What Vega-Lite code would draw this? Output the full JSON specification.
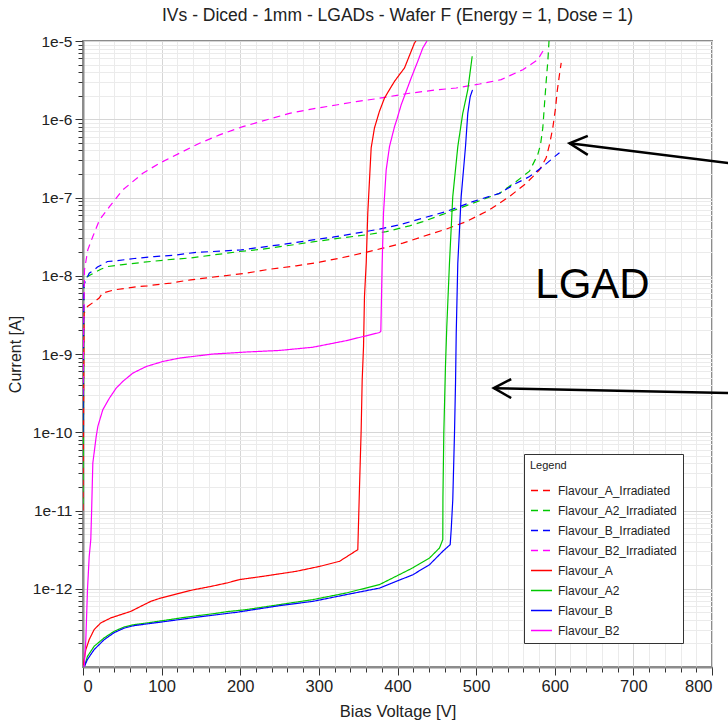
{
  "$schema": "https://vega.github.io/schema/vega-lite/v6.json",
  "width": 629,
  "height": 626,
  "autosize": {"type": "none"},
  "padding": {"left": 83, "top": 41, "right": 16, "bottom": 57},
  "background": "white",
  "config": {
    "font": "Liberation Sans",
    "view": {"stroke": "#8c8c8c", "strokeWidth": 2}
  },
  "title": {
    "text": "IVs - Diced - 1mm - LGADs - Wafer F (Energy = 1, Dose = 1)",
    "fontSize": 17.5,
    "fontWeight": "normal",
    "color": "#222222",
    "anchor": "middle",
    "offset": 10
  },
  "datasets": {
    "curves": [
      {"s": "Flavour_A_Irradiated", "v": 0, "i": 1.0e-11},
      {"s": "Flavour_A_Irradiated", "v": 1.5, "i": 3.33e-9},
      {"s": "Flavour_A_Irradiated", "v": 5.7, "i": 4.05e-9},
      {"s": "Flavour_A_Irradiated", "v": 20.6, "i": 5.18e-9},
      {"s": "Flavour_A_Irradiated", "v": 24.8, "i": 6.0e-9},
      {"s": "Flavour_A_Irradiated", "v": 39.7, "i": 6.61e-9},
      {"s": "Flavour_A_Irradiated", "v": 56.6, "i": 6.95e-9},
      {"s": "Flavour_A_Irradiated", "v": 69.3, "i": 7.28e-9},
      {"s": "Flavour_A_Irradiated", "v": 82, "i": 7.43e-9},
      {"s": "Flavour_A_Irradiated", "v": 99, "i": 7.82e-9},
      {"s": "Flavour_A_Irradiated", "v": 111.7, "i": 8.05e-9},
      {"s": "Flavour_A_Irradiated", "v": 128.7, "i": 8.61e-9},
      {"s": "Flavour_A_Irradiated", "v": 137.1, "i": 8.87e-9},
      {"s": "Flavour_A_Irradiated", "v": 207.6, "i": 1.08e-8},
      {"s": "Flavour_A_Irradiated", "v": 237.2, "i": 1.21e-8},
      {"s": "Flavour_A_Irradiated", "v": 271.2, "i": 1.34e-8},
      {"s": "Flavour_A_Irradiated", "v": 300.8, "i": 1.49e-8},
      {"s": "Flavour_A_Irradiated", "v": 330.4, "i": 1.71e-8},
      {"s": "Flavour_A_Irradiated", "v": 355.9, "i": 1.95e-8},
      {"s": "Flavour_A_Irradiated", "v": 381.3, "i": 2.25e-8},
      {"s": "Flavour_A_Irradiated", "v": 406.7, "i": 2.61e-8},
      {"s": "Flavour_A_Irradiated", "v": 432.2, "i": 3.17e-8},
      {"s": "Flavour_A_Irradiated", "v": 461.9, "i": 3.94e-8},
      {"s": "Flavour_A_Irradiated", "v": 487.4, "i": 4.92e-8},
      {"s": "Flavour_A_Irradiated", "v": 517, "i": 6.95e-8},
      {"s": "Flavour_A_Irradiated", "v": 542.4, "i": 1.03e-7},
      {"s": "Flavour_A_Irradiated", "v": 563.7, "i": 1.52e-7},
      {"s": "Flavour_A_Irradiated", "v": 580.6, "i": 2.25e-7},
      {"s": "Flavour_A_Irradiated", "v": 589.1, "i": 3.21e-7},
      {"s": "Flavour_A_Irradiated", "v": 593.3, "i": 4.74e-7},
      {"s": "Flavour_A_Irradiated", "v": 597.5, "i": 7.74e-7},
      {"s": "Flavour_A_Irradiated", "v": 601, "i": 1.39e-6},
      {"s": "Flavour_A_Irradiated", "v": 603.1, "i": 2.28e-6},
      {"s": "Flavour_A_Irradiated", "v": 606, "i": 3.72e-6},
      {"s": "Flavour_A_Irradiated", "v": 608.2, "i": 5.24e-6},

      {"s": "Flavour_A2_Irradiated", "v": 0, "i": 1.2e-11},
      {"s": "Flavour_A2_Irradiated", "v": 1.5, "i": 8.87e-9},
      {"s": "Flavour_A2_Irradiated", "v": 5.7, "i": 9.77e-9},
      {"s": "Flavour_A2_Irradiated", "v": 22.6, "i": 1.21e-8},
      {"s": "Flavour_A2_Irradiated", "v": 31.2, "i": 1.31e-8},
      {"s": "Flavour_A2_Irradiated", "v": 48.1, "i": 1.38e-8},
      {"s": "Flavour_A2_Irradiated", "v": 60.8, "i": 1.42e-8},
      {"s": "Flavour_A2_Irradiated", "v": 77.8, "i": 1.49e-8},
      {"s": "Flavour_A2_Irradiated", "v": 107.5, "i": 1.60e-8},
      {"s": "Flavour_A2_Irradiated", "v": 137.1, "i": 1.69e-8},
      {"s": "Flavour_A2_Irradiated", "v": 199, "i": 2.04e-8},
      {"s": "Flavour_A2_Irradiated", "v": 228.7, "i": 2.19e-8},
      {"s": "Flavour_A2_Irradiated", "v": 258.4, "i": 2.41e-8},
      {"s": "Flavour_A2_Irradiated", "v": 292.3, "i": 2.71e-8},
      {"s": "Flavour_A2_Irradiated", "v": 326.2, "i": 3.02e-8},
      {"s": "Flavour_A2_Irradiated", "v": 360.2, "i": 3.33e-8},
      {"s": "Flavour_A2_Irradiated", "v": 385.6, "i": 3.66e-8},
      {"s": "Flavour_A2_Irradiated", "v": 415.3, "i": 4.34e-8},
      {"s": "Flavour_A2_Irradiated", "v": 432.2, "i": 4.92e-8},
      {"s": "Flavour_A2_Irradiated", "v": 461.9, "i": 6.31e-8},
      {"s": "Flavour_A2_Irradiated", "v": 495.8, "i": 8.45e-8},
      {"s": "Flavour_A2_Irradiated", "v": 529.7, "i": 1.13e-7},
      {"s": "Flavour_A2_Irradiated", "v": 551, "i": 1.60e-7},
      {"s": "Flavour_A2_Irradiated", "v": 567.9, "i": 2.17e-7},
      {"s": "Flavour_A2_Irradiated", "v": 578.4, "i": 3.53e-7},
      {"s": "Flavour_A2_Irradiated", "v": 581.9, "i": 4.74e-7},
      {"s": "Flavour_A2_Irradiated", "v": 584.8, "i": 7.74e-7},
      {"s": "Flavour_A2_Irradiated", "v": 586.9, "i": 1.53e-6},
      {"s": "Flavour_A2_Irradiated", "v": 589.1, "i": 3.05e-6},
      {"s": "Flavour_A2_Irradiated", "v": 591.2, "i": 5.51e-6},
      {"s": "Flavour_A2_Irradiated", "v": 592.7, "i": 1.0e-5},

      {"s": "Flavour_B_Irradiated", "v": 0, "i": 1.0e-10},
      {"s": "Flavour_B_Irradiated", "v": 1, "i": 7.6e-9},
      {"s": "Flavour_B_Irradiated", "v": 7.9, "i": 1.08e-8},
      {"s": "Flavour_B_Irradiated", "v": 14.2, "i": 1.19e-8},
      {"s": "Flavour_B_Irradiated", "v": 18.4, "i": 1.29e-8},
      {"s": "Flavour_B_Irradiated", "v": 31.2, "i": 1.52e-8},
      {"s": "Flavour_B_Irradiated", "v": 43.9, "i": 1.56e-8},
      {"s": "Flavour_B_Irradiated", "v": 65.1, "i": 1.66e-8},
      {"s": "Flavour_B_Irradiated", "v": 90.6, "i": 1.76e-8},
      {"s": "Flavour_B_Irradiated", "v": 116, "i": 1.83e-8},
      {"s": "Flavour_B_Irradiated", "v": 141.4, "i": 1.98e-8},
      {"s": "Flavour_B_Irradiated", "v": 201.2, "i": 2.14e-8},
      {"s": "Flavour_B_Irradiated", "v": 233, "i": 2.36e-8},
      {"s": "Flavour_B_Irradiated", "v": 258.4, "i": 2.55e-8},
      {"s": "Flavour_B_Irradiated", "v": 292.3, "i": 2.87e-8},
      {"s": "Flavour_B_Irradiated", "v": 317.7, "i": 3.11e-8},
      {"s": "Flavour_B_Irradiated", "v": 347.5, "i": 3.50e-8},
      {"s": "Flavour_B_Irradiated", "v": 377.1, "i": 3.94e-8},
      {"s": "Flavour_B_Irradiated", "v": 402.5, "i": 4.47e-8},
      {"s": "Flavour_B_Irradiated", "v": 432.2, "i": 5.45e-8},
      {"s": "Flavour_B_Irradiated", "v": 461.9, "i": 6.61e-8},
      {"s": "Flavour_B_Irradiated", "v": 495.8, "i": 8.87e-8},
      {"s": "Flavour_B_Irradiated", "v": 529.7, "i": 1.13e-7},
      {"s": "Flavour_B_Irradiated", "v": 551, "i": 1.52e-7},
      {"s": "Flavour_B_Irradiated", "v": 567.9, "i": 1.85e-7},
      {"s": "Flavour_B_Irradiated", "v": 584.8, "i": 2.48e-7},
      {"s": "Flavour_B_Irradiated", "v": 597.5, "i": 3.18e-7},
      {"s": "Flavour_B_Irradiated", "v": 606, "i": 3.74e-7},

      {"s": "Flavour_B2_Irradiated", "v": 0, "i": 3.0e-10},
      {"s": "Flavour_B2_Irradiated", "v": 1.9, "i": 1.19e-8},
      {"s": "Flavour_B2_Irradiated", "v": 6.1, "i": 2.14e-8},
      {"s": "Flavour_B2_Irradiated", "v": 12.5, "i": 3.17e-8},
      {"s": "Flavour_B2_Irradiated", "v": 21, "i": 5.18e-8},
      {"s": "Flavour_B2_Irradiated", "v": 33.7, "i": 7.66e-8},
      {"s": "Flavour_B2_Irradiated", "v": 50.6, "i": 1.25e-7},
      {"s": "Flavour_B2_Irradiated", "v": 76.1, "i": 2.04e-7},
      {"s": "Flavour_B2_Irradiated", "v": 97.3, "i": 2.74e-7},
      {"s": "Flavour_B2_Irradiated", "v": 122.7, "i": 3.68e-7},
      {"s": "Flavour_B2_Irradiated", "v": 148.2, "i": 4.93e-7},
      {"s": "Flavour_B2_Irradiated", "v": 173.6, "i": 6.31e-7},
      {"s": "Flavour_B2_Irradiated", "v": 203.2, "i": 8.04e-7},
      {"s": "Flavour_B2_Irradiated", "v": 233, "i": 9.79e-7},
      {"s": "Flavour_B2_Irradiated", "v": 262.6, "i": 1.19e-6},
      {"s": "Flavour_B2_Irradiated", "v": 292.3, "i": 1.36e-6},
      {"s": "Flavour_B2_Irradiated", "v": 322, "i": 1.52e-6},
      {"s": "Flavour_B2_Irradiated", "v": 347.5, "i": 1.68e-6},
      {"s": "Flavour_B2_Irradiated", "v": 368.6, "i": 1.80e-6},
      {"s": "Flavour_B2_Irradiated", "v": 389.8, "i": 1.95e-6},
      {"s": "Flavour_B2_Irradiated", "v": 415.3, "i": 2.15e-6},
      {"s": "Flavour_B2_Irradiated", "v": 449.2, "i": 2.37e-6},
      {"s": "Flavour_B2_Irradiated", "v": 474.7, "i": 2.51e-6},
      {"s": "Flavour_B2_Irradiated", "v": 504.3, "i": 2.82e-6},
      {"s": "Flavour_B2_Irradiated", "v": 531.9, "i": 3.21e-6},
      {"s": "Flavour_B2_Irradiated", "v": 559.4, "i": 4.30e-6},
      {"s": "Flavour_B2_Irradiated", "v": 578.4, "i": 5.77e-6},
      {"s": "Flavour_B2_Irradiated", "v": 584.8, "i": 7.38e-6},
      {"s": "Flavour_B2_Irradiated", "v": 587, "i": 8.15e-6},

      {"s": "Flavour_A", "v": 0.6, "i": 1.05e-13},
      {"s": "Flavour_A", "v": 1.5, "i": 1.25e-13},
      {"s": "Flavour_A", "v": 3.6, "i": 1.67e-13},
      {"s": "Flavour_A", "v": 7.9, "i": 2.24e-13},
      {"s": "Flavour_A", "v": 14.2, "i": 3.01e-13},
      {"s": "Flavour_A", "v": 22.6, "i": 3.66e-13},
      {"s": "Flavour_A", "v": 35.4, "i": 4.24e-13},
      {"s": "Flavour_A", "v": 48.1, "i": 4.67e-13},
      {"s": "Flavour_A", "v": 60.8, "i": 5.14e-13},
      {"s": "Flavour_A", "v": 73.5, "i": 5.96e-13},
      {"s": "Flavour_A", "v": 86.2, "i": 6.90e-13},
      {"s": "Flavour_A", "v": 99, "i": 7.62e-13},
      {"s": "Flavour_A", "v": 120.2, "i": 8.65e-13},
      {"s": "Flavour_A", "v": 141.4, "i": 9.75e-13},
      {"s": "Flavour_A", "v": 162.5, "i": 1.07e-12},
      {"s": "Flavour_A", "v": 183.8, "i": 1.19e-12},
      {"s": "Flavour_A", "v": 199, "i": 1.31e-12},
      {"s": "Flavour_A", "v": 228.7, "i": 1.44e-12},
      {"s": "Flavour_A", "v": 271.2, "i": 1.67e-12},
      {"s": "Flavour_A", "v": 300.8, "i": 1.93e-12},
      {"s": "Flavour_A", "v": 326.2, "i": 2.24e-12},
      {"s": "Flavour_A", "v": 349.5, "i": 3.16e-12},
      {"s": "Flavour_A", "v": 351.7, "i": 2.03e-11},
      {"s": "Flavour_A", "v": 353.8, "i": 1.08e-10},
      {"s": "Flavour_A", "v": 355.1, "i": 4.68e-10},
      {"s": "Flavour_A", "v": 356.8, "i": 1.25e-9},
      {"s": "Flavour_A", "v": 358, "i": 5.42e-9},
      {"s": "Flavour_A", "v": 360.2, "i": 1.45e-8},
      {"s": "Flavour_A", "v": 362.2, "i": 6.31e-8},
      {"s": "Flavour_A", "v": 364.4, "i": 1.68e-7},
      {"s": "Flavour_A", "v": 366.5, "i": 4.30e-7},
      {"s": "Flavour_A", "v": 370.7, "i": 7.74e-7},
      {"s": "Flavour_A", "v": 377, "i": 1.26e-6},
      {"s": "Flavour_A", "v": 383.5, "i": 1.87e-6},
      {"s": "Flavour_A", "v": 389.8, "i": 2.39e-6},
      {"s": "Flavour_A", "v": 396.2, "i": 3.05e-6},
      {"s": "Flavour_A", "v": 402.5, "i": 3.72e-6},
      {"s": "Flavour_A", "v": 408.9, "i": 4.52e-6},
      {"s": "Flavour_A", "v": 413.1, "i": 5.77e-6},
      {"s": "Flavour_A", "v": 417.4, "i": 7.40e-6},
      {"s": "Flavour_A", "v": 421.6, "i": 9.42e-6},
      {"s": "Flavour_A", "v": 423.5, "i": 1.0e-5},

      {"s": "Flavour_A2", "v": 1.5, "i": 1.0e-13},
      {"s": "Flavour_A2", "v": 5.7, "i": 1.37e-13},
      {"s": "Flavour_A2", "v": 14.2, "i": 1.84e-13},
      {"s": "Flavour_A2", "v": 27, "i": 2.36e-13},
      {"s": "Flavour_A2", "v": 39.7, "i": 2.86e-13},
      {"s": "Flavour_A2", "v": 52.4, "i": 3.25e-13},
      {"s": "Flavour_A2", "v": 65.1, "i": 3.48e-13},
      {"s": "Flavour_A2", "v": 82, "i": 3.66e-13},
      {"s": "Flavour_A2", "v": 103.3, "i": 3.94e-13},
      {"s": "Flavour_A2", "v": 124.4, "i": 4.24e-13},
      {"s": "Flavour_A2", "v": 145.6, "i": 4.53e-13},
      {"s": "Flavour_A2", "v": 166.9, "i": 4.81e-13},
      {"s": "Flavour_A2", "v": 184.1, "i": 5.11e-13},
      {"s": "Flavour_A2", "v": 207.6, "i": 5.41e-13},
      {"s": "Flavour_A2", "v": 249.9, "i": 6.27e-13},
      {"s": "Flavour_A2", "v": 292.3, "i": 7.26e-13},
      {"s": "Flavour_A2", "v": 334.8, "i": 8.83e-13},
      {"s": "Flavour_A2", "v": 377.1, "i": 1.13e-12},
      {"s": "Flavour_A2", "v": 419.5, "i": 1.85e-12},
      {"s": "Flavour_A2", "v": 440.7, "i": 2.47e-12},
      {"s": "Flavour_A2", "v": 453.4, "i": 3.32e-12},
      {"s": "Flavour_A2", "v": 457.6, "i": 4.24e-12},
      {"s": "Flavour_A2", "v": 457.8, "i": 1.51e-11},
      {"s": "Flavour_A2", "v": 458.9, "i": 9.77e-11},
      {"s": "Flavour_A2", "v": 461, "i": 6.92e-10},
      {"s": "Flavour_A2", "v": 462.7, "i": 2.24e-9},
      {"s": "Flavour_A2", "v": 466.1, "i": 1.45e-8},
      {"s": "Flavour_A2", "v": 470.3, "i": 1.03e-7},
      {"s": "Flavour_A2", "v": 476.7, "i": 4.47e-7},
      {"s": "Flavour_A2", "v": 483, "i": 1.19e-6},
      {"s": "Flavour_A2", "v": 489.4, "i": 2.37e-6},
      {"s": "Flavour_A2", "v": 495, "i": 6.38e-6},

      {"s": "Flavour_B", "v": 1.5, "i": 1.0e-13},
      {"s": "Flavour_B", "v": 5.7, "i": 1.25e-13},
      {"s": "Flavour_B", "v": 14.2, "i": 1.67e-13},
      {"s": "Flavour_B", "v": 27, "i": 2.24e-13},
      {"s": "Flavour_B", "v": 39.7, "i": 2.75e-13},
      {"s": "Flavour_B", "v": 52.4, "i": 3.14e-13},
      {"s": "Flavour_B", "v": 65.1, "i": 3.38e-13},
      {"s": "Flavour_B", "v": 103.3, "i": 3.80e-13},
      {"s": "Flavour_B", "v": 145.6, "i": 4.34e-13},
      {"s": "Flavour_B", "v": 196.5, "i": 5.02e-13},
      {"s": "Flavour_B", "v": 249.9, "i": 6.08e-13},
      {"s": "Flavour_B", "v": 292.3, "i": 6.90e-13},
      {"s": "Flavour_B", "v": 334.8, "i": 8.41e-13},
      {"s": "Flavour_B", "v": 377.1, "i": 1.02e-12},
      {"s": "Flavour_B", "v": 419.5, "i": 1.51e-12},
      {"s": "Flavour_B", "v": 440.7, "i": 2.03e-12},
      {"s": "Flavour_B", "v": 457.6, "i": 3.01e-12},
      {"s": "Flavour_B", "v": 467, "i": 3.66e-12},
      {"s": "Flavour_B", "v": 468.3, "i": 5.69e-12},
      {"s": "Flavour_B", "v": 470.3, "i": 1.37e-11},
      {"s": "Flavour_B", "v": 472.5, "i": 9.77e-11},
      {"s": "Flavour_B", "v": 473.8, "i": 4.25e-10},
      {"s": "Flavour_B", "v": 474.7, "i": 1.85e-9},
      {"s": "Flavour_B", "v": 476.7, "i": 1.45e-8},
      {"s": "Flavour_B", "v": 481, "i": 1.03e-7},
      {"s": "Flavour_B", "v": 486.5, "i": 4.47e-7},
      {"s": "Flavour_B", "v": 489.4, "i": 1.19e-6},
      {"s": "Flavour_B", "v": 492.5, "i": 1.95e-6},
      {"s": "Flavour_B", "v": 495.4, "i": 2.37e-6},

      {"s": "Flavour_B2", "v": 1.5, "i": 1.0e-13},
      {"s": "Flavour_B2", "v": 3.6, "i": 2.24e-13},
      {"s": "Flavour_B2", "v": 5.7, "i": 9.75e-13},
      {"s": "Flavour_B2", "v": 7.9, "i": 2.59e-12},
      {"s": "Flavour_B2", "v": 9.9, "i": 4.24e-12},
      {"s": "Flavour_B2", "v": 11, "i": 1.02e-11},
      {"s": "Flavour_B2", "v": 12.5, "i": 4.05e-11},
      {"s": "Flavour_B2", "v": 16.8, "i": 8.83e-11},
      {"s": "Flavour_B2", "v": 18.9, "i": 1.19e-10},
      {"s": "Flavour_B2", "v": 25.2, "i": 1.94e-10},
      {"s": "Flavour_B2", "v": 33.7, "i": 2.74e-10},
      {"s": "Flavour_B2", "v": 42.2, "i": 3.66e-10},
      {"s": "Flavour_B2", "v": 50.6, "i": 4.46e-10},
      {"s": "Flavour_B2", "v": 63.4, "i": 5.70e-10},
      {"s": "Flavour_B2", "v": 80.4, "i": 6.92e-10},
      {"s": "Flavour_B2", "v": 101.5, "i": 8.02e-10},
      {"s": "Flavour_B2", "v": 122.7, "i": 8.87e-10},
      {"s": "Flavour_B2", "v": 165.1, "i": 9.98e-10},
      {"s": "Flavour_B2", "v": 207.6, "i": 1.06e-9},
      {"s": "Flavour_B2", "v": 249.9, "i": 1.11e-9},
      {"s": "Flavour_B2", "v": 292.3, "i": 1.22e-9},
      {"s": "Flavour_B2", "v": 334.7, "i": 1.48e-9},
      {"s": "Flavour_B2", "v": 377.1, "i": 1.88e-9},
      {"s": "Flavour_B2", "v": 378.8, "i": 1.95e-9},
      {"s": "Flavour_B2", "v": 380.5, "i": 1.45e-8},
      {"s": "Flavour_B2", "v": 382.2, "i": 6.31e-8},
      {"s": "Flavour_B2", "v": 385.6, "i": 2.25e-7},
      {"s": "Flavour_B2", "v": 389.8, "i": 4.47e-7},
      {"s": "Flavour_B2", "v": 396.2, "i": 8.04e-7},
      {"s": "Flavour_B2", "v": 399.1, "i": 9.89e-7},
      {"s": "Flavour_B2", "v": 404.7, "i": 1.53e-6},
      {"s": "Flavour_B2", "v": 411.1, "i": 2.28e-6},
      {"s": "Flavour_B2", "v": 417.4, "i": 3.37e-6},
      {"s": "Flavour_B2", "v": 425.8, "i": 5.51e-6},
      {"s": "Flavour_B2", "v": 432.2, "i": 8.15e-6},
      {"s": "Flavour_B2", "v": 437.5, "i": 1.0e-5}
    ],
    "arrows": [
      {"seg": "a1_shaft", "o": 1, "v": 618.8, "i": 4.93e-7},
      {"seg": "a1_shaft", "o": 2, "v": 835, "i": 2.65e-7},
      {"seg": "a1_head", "o": 1, "v": 642, "i": 6.12e-7},
      {"seg": "a1_head", "o": 2, "v": 618.8, "i": 4.93e-7},
      {"seg": "a1_head", "o": 3, "v": 642, "i": 3.50e-7},
      {"seg": "a2_shaft", "o": 1, "v": 522.5, "i": 3.66e-10},
      {"seg": "a2_shaft", "o": 2, "v": 835, "i": 3.14e-10},
      {"seg": "a2_head", "o": 1, "v": 544.6, "i": 4.78e-10},
      {"seg": "a2_head", "o": 2, "v": 522.5, "i": 3.66e-10},
      {"seg": "a2_head", "o": 3, "v": 544.6, "i": 2.74e-10}
    ],
    "labels": [
      {"t": "LGAD", "v": 648, "i": 7.65e-9}
    ]
  },
  "layer": [
    {
      "data": {"name": "curves"},
      "mark": {"type": "line", "strokeWidth": 1.2, "clip": true},
      "encoding": {
        "x": {
          "field": "v", "type": "quantitative",
          "scale": {"domain": [0, 800], "nice": false, "zero": false},
          "axis": {
            "orient": "bottom",
            "values": [0,20,40,60,80,100,120,140,160,180,200,220,240,260,280,300,320,340,360,380,400,420,440,460,480,500,520,540,560,580,600,620,640,660,680,700,720,740,760,780,800],
            "labels": false, "title": null, "domain": false,
            "tickSize": 5, "tickColor": "#333333", "tickWidth": 1,
            "grid": true, "gridColor": "#ebebeb", "gridWidth": 1
          }
        },
        "y": {
          "field": "i", "type": "quantitative",
          "scale": {"type": "log", "domain": [1e-13, 1e-5], "nice": false},
          "axis": {
            "orient": "left",
            "values": [2e-13,3e-13,4e-13,5e-13,6e-13,7e-13,8e-13,9e-13,2e-12,3e-12,4e-12,5e-12,6e-12,7e-12,8e-12,9e-12,2e-11,3e-11,4e-11,5e-11,6e-11,7e-11,8e-11,9e-11,2e-10,3e-10,4e-10,5e-10,6e-10,7e-10,8e-10,9e-10,2e-9,3e-9,4e-9,5e-9,6e-9,7e-9,8e-9,9e-9,2e-8,3e-8,4e-8,5e-8,6e-8,7e-8,8e-8,9e-8,2e-7,3e-7,4e-7,5e-7,6e-7,7e-7,8e-7,9e-7,2e-6,3e-6,4e-6,5e-6,6e-6,7e-6,8e-6,9e-6],
            "labels": false, "title": null, "domain": false,
            "tickSize": 5, "tickColor": "#333333", "tickWidth": 1,
            "grid": true, "gridColor": "#ebebeb", "gridWidth": 1
          }
        },
        "color": {
          "field": "s", "type": "nominal",
          "scale": {
            "domain": ["Flavour_A_Irradiated","Flavour_A2_Irradiated","Flavour_B_Irradiated","Flavour_B2_Irradiated","Flavour_A","Flavour_A2","Flavour_B","Flavour_B2"],
            "range": ["#ff0000","#00c800","#0000ff","#ff00ff","#ff0000","#00c800","#0000ff","#ff00ff"]
          },
          "legend": {
            "orient": "none", "legendX": 441, "legendY": 413,
            "title": "Legend", "titleFontSize": 11, "titleFontWeight": "normal", "titleColor": "#222222",
            "titlePadding": 8,
            "labelFontSize": 12, "labelColor": "#222222", "labelLimit": 300, "labelOffset": 5,
            "symbolType": "stroke", "symbolSize": 441, "symbolStrokeWidth": 1.5,
            "rowPadding": 2,
            "padding": 6, "strokeColor": "#333333", "fillColor": "white"
          }
        },
        "strokeDash": {
          "field": "s", "type": "nominal",
          "scale": {
            "domain": ["Flavour_A_Irradiated","Flavour_A2_Irradiated","Flavour_B_Irradiated","Flavour_B2_Irradiated","Flavour_A","Flavour_A2","Flavour_B","Flavour_B2"],
            "range": [[7,5],[7,5],[7,5],[7,5],[1,0],[1,0],[1,0],[1,0]]
          },
          "legend": {
            "orient": "none", "legendX": 441, "legendY": 413,
            "title": "Legend", "titleFontSize": 11, "titleFontWeight": "normal", "titleColor": "#222222",
            "titlePadding": 8,
            "labelFontSize": 12, "labelColor": "#222222", "labelLimit": 300, "labelOffset": 5,
            "symbolType": "stroke", "symbolSize": 441, "symbolStrokeWidth": 1.5,
            "rowPadding": 2,
            "padding": 6, "strokeColor": "#333333", "fillColor": "white"
          }
        }
      }
    },
    {
      "data": {"name": "arrows"},
      "mark": {"type": "line", "color": "black", "strokeWidth": 2.5, "clip": false},
      "encoding": {
        "x": {
          "field": "v", "type": "quantitative",
          "axis": {
            "orient": "bottom",
            "values": [0,100,200,300,400,500,600,700,800],
            "labelFontSize": 16.5, "labelColor": "#222222", "labelPadding": 3,
            "title": "Bias Voltage [V]", "titleFontSize": 16.5, "titleFontWeight": "normal", "titleColor": "#222222", "titlePadding": 9,
            "domain": true, "domainColor": "#8c8c8c", "domainWidth": 2,
            "tickSize": 8, "tickColor": "#333333", "tickWidth": 1,
            "grid": true, "gridColor": "#d6d6d6", "gridWidth": 1
          }
        },
        "y": {
          "field": "i", "type": "quantitative",
          "axis": {
            "orient": "left",
            "values": [1e-12,1e-11,1e-10,1e-9,1e-8,1e-7,1e-6,1e-5],
            "labelExpr": "'1e' + round(log(datum.value) / LN10)",
            "labelFontSize": 15.5, "labelColor": "#222222", "labelPadding": 3,
            "title": "Current [A]", "titleFontSize": 16, "titleFontWeight": "normal", "titleColor": "#222222", "titlePadding": 9,
            "domain": true, "domainColor": "#8c8c8c", "domainWidth": 2,
            "tickSize": 8, "tickColor": "#333333", "tickWidth": 1,
            "grid": true, "gridColor": "#d6d6d6", "gridWidth": 1
          }
        },
        "detail": {"field": "seg", "type": "nominal"},
        "order": {"field": "o", "type": "quantitative"}
      }
    },
    {
      "data": {"name": "labels"},
      "mark": {"type": "text", "fontSize": 42, "color": "black", "align": "center", "baseline": "middle"},
      "encoding": {
        "x": {"field": "v", "type": "quantitative", "axis": null},
        "y": {"field": "i", "type": "quantitative", "axis": null},
        "text": {"field": "t", "type": "nominal"}
      }
    }
  ],
  "resolve": {"axis": {"x": "independent", "y": "independent"}}
}
